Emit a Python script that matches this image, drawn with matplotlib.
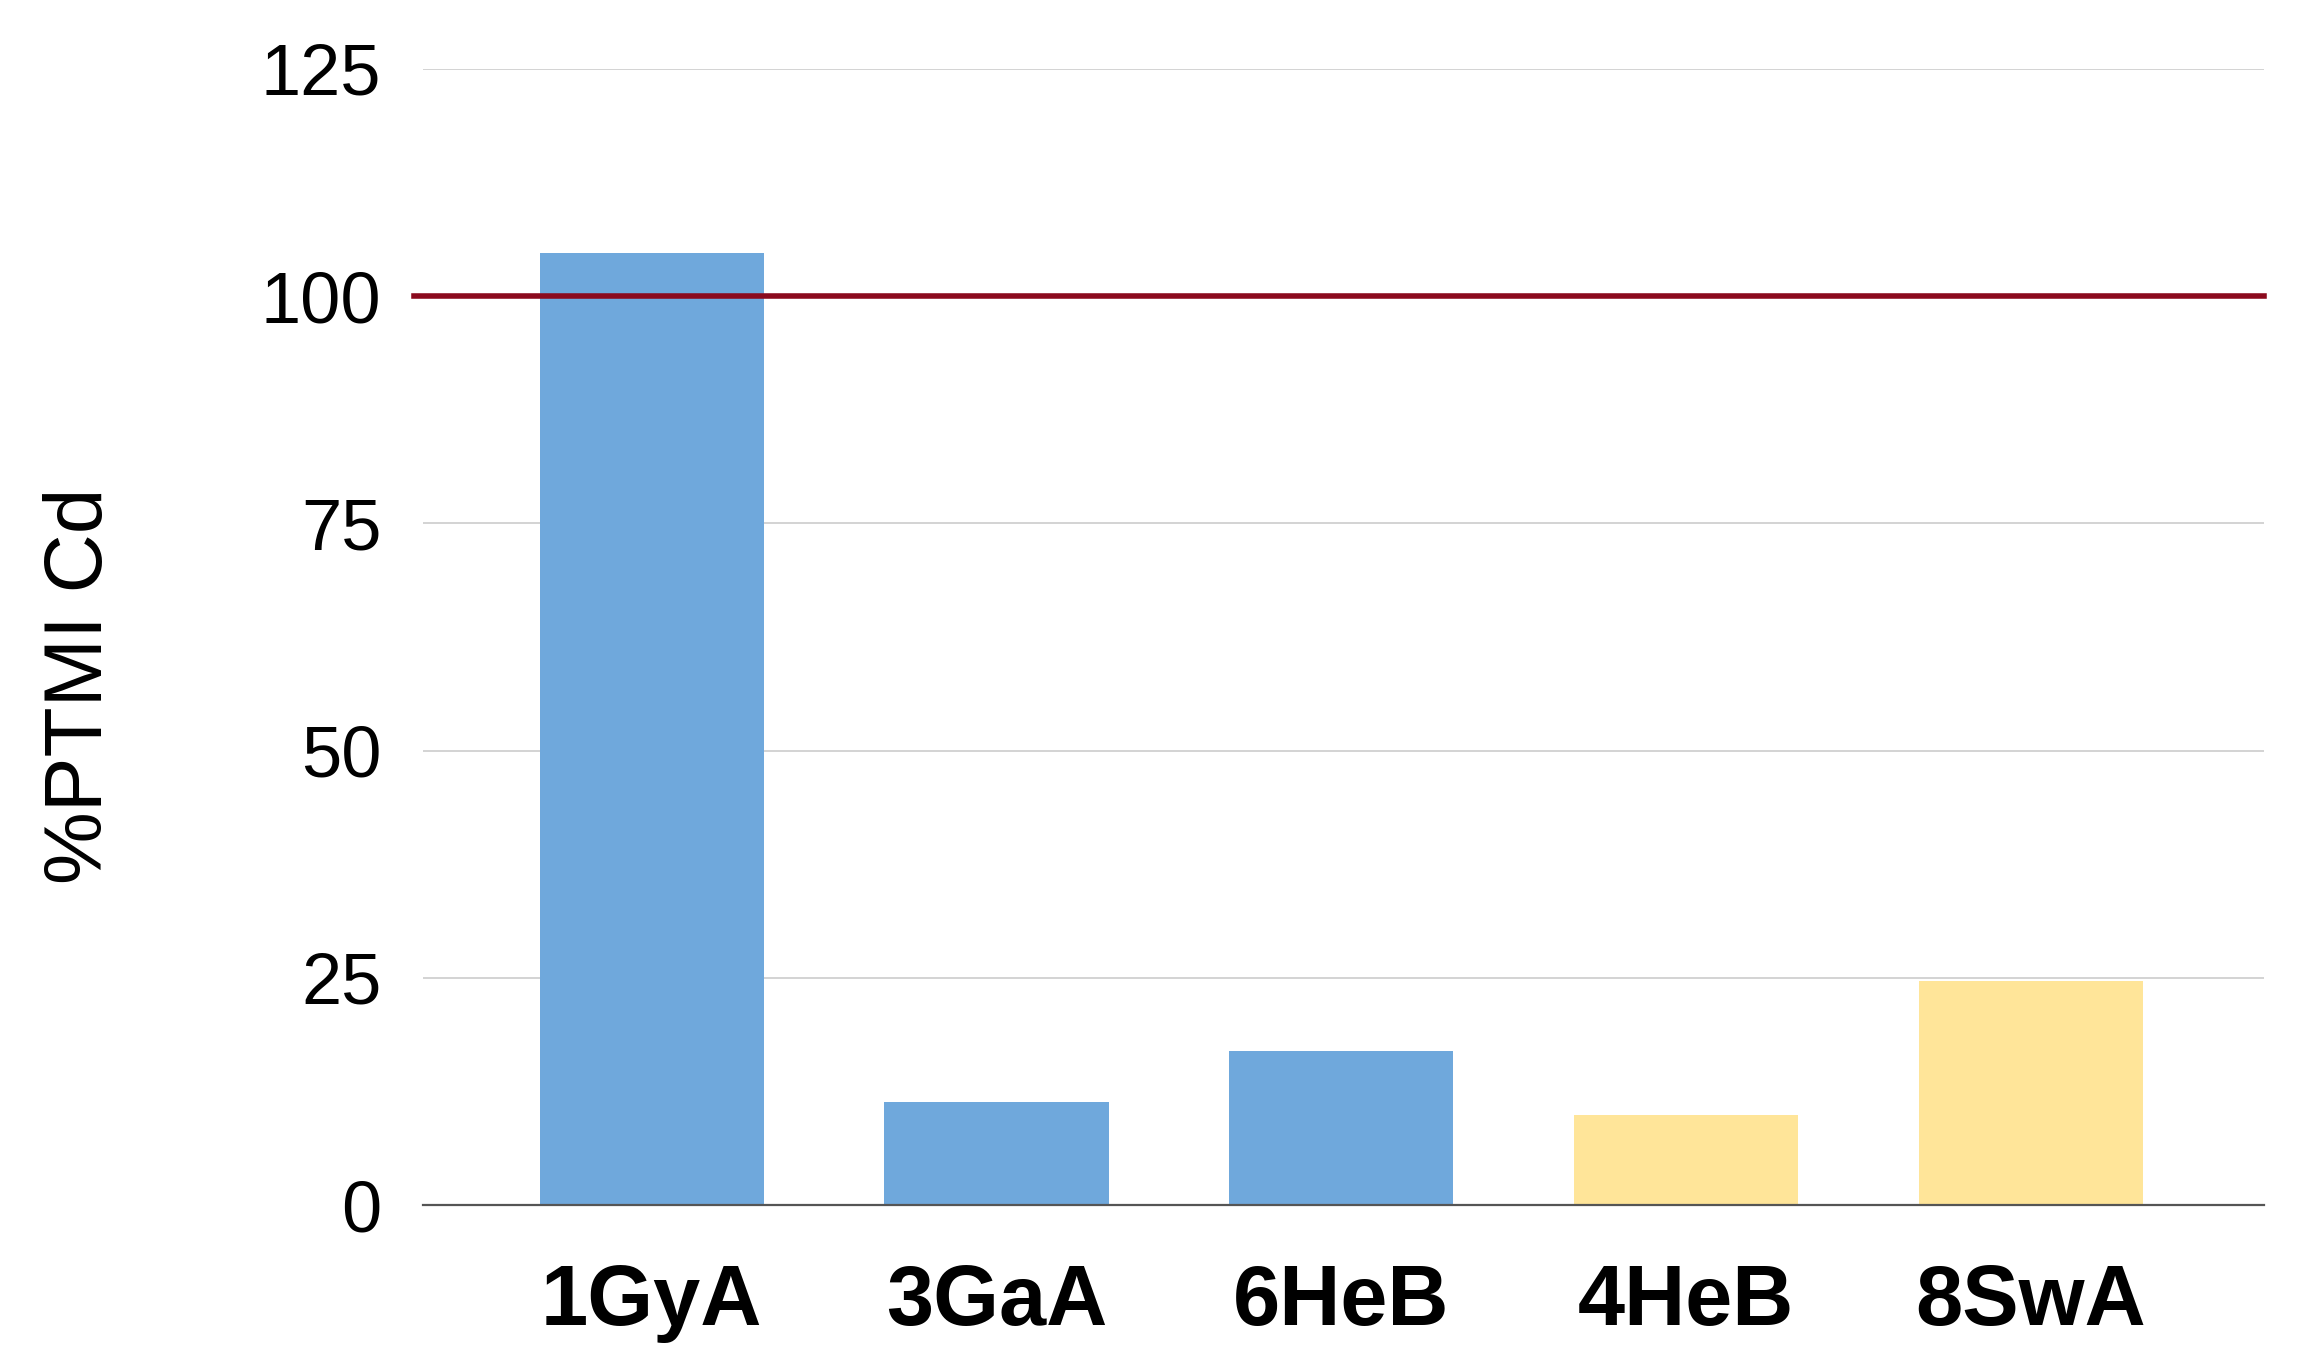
import matplotlib.pyplot as plt
import numpy as np

plt.rcParams['font.family'] = ['Liberation Sans', 'DejaVu Sans']

strains = ['1GyA', '3GaA', '6HeB', '4HeB', '8SwA']
ptmi_cd = [104.7, 11.3, 16.9, 9.9, 24.6]
bar_colors = ['#6fa8dc', '#6fa8dc', '#6fa8dc', '#ffe599', '#ffe599']
y_ticks = [0, 25, 50, 75, 100, 125]
reference_level = 100

fig = plt.figure(figsize=(23.13, 13.65), dpi=100)
ax = fig.add_axes([0.1829, 0.1172, 0.7959, 0.8323])

x = np.arange(len(strains))
ax.bar(x, ptmi_cd, width=0.65, color=bar_colors, zorder=2)
# reference line starts a little left of the gridlines
ax.axhline(reference_level, xmin=-0.005, xmax=1.0, color='#8b0a1e', lw=4,
           zorder=3, clip_on=False)

ax.set_ylim(0, 125)
ax.set_xlim(-0.663, 4.676)
ax.set_yticks(y_ticks)
ax.set_xticks(x)
ax.set_xticklabels(strains, fontsize=61, fontweight='bold')
ax.tick_params(axis='y', labelsize=52, length=0, pad=30)
ax.tick_params(axis='x', length=0, pad=42)

ax.grid(axis='y', color='#d3d3d3', lw=1.4, zorder=0)
for s in ['top', 'right', 'left']:
    ax.spines[s].set_visible(False)
ax.spines['bottom'].set_color('#555555')
ax.spines['bottom'].set_linewidth(1.6)
ax.spines['bottom'].set_zorder(4)

fig.text(0.035, 1 - 686 / 1365, '%PTMI Cd', rotation=90, fontsize=59,
         ha='center', va='center')

fig.savefig('out.png', dpi=100)
